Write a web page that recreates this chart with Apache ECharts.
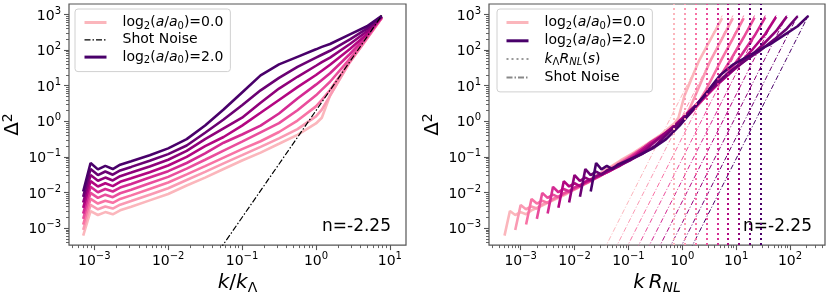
<!DOCTYPE html>
<html>
<head>
<meta charset="utf-8">
<script src="https://cdn.jsdelivr.net/npm/echarts@6/dist/echarts.min.js"></script>
<style>html,body{margin:0;padding:0;background:#fff}#chart{width:830px;height:300px}</style>
</head>
<body>
<div id="chart"></div>
<script>
// ---------------- data ----------------
const kOverKLambda = [7.08e-4, 8.91e-4, 1.12e-3, 1.41e-3, 1.78e-3, 2.24e-3, 3.16e-3, 5.62e-3, 0.01, 0.0178, 0.0316, 0.0562, 0.1, 0.178, 0.316, 0.562, 1.0, 1.20, 1.55, 2.88, 4.90, 7.76];
const log2aOverA0 = [0.0, 0.25, 0.5, 0.75, 1.0, 1.25, 1.5, 1.75, 2.0];
const delta2_a000 = [6.17e-4, 3.02e-3, 2.34e-3, 2.82e-3, 2.45e-3, 3.16e-3, 3.98e-3, 6.03e-3, 9.12e-3, 0.0158, 0.0263, 0.0457, 0.0794, 0.132, 0.234, 0.417, 0.871, 1.26, 5.25, 50.1, 219, 794];
const delta2_a025 = [8.91e-4, 4.47e-3, 3.39e-3, 4.07e-3, 3.55e-3, 4.57e-3, 5.75e-3, 8.71e-3, 0.0132, 0.0224, 0.0380, 0.0661, 0.112, 0.191, 0.331, 0.603, 1.38, 2.14, 5.25, 45.7, 209, 794];
const delta2_a050 = [1.26e-3, 6.61e-3, 4.90e-3, 5.89e-3, 5.13e-3, 6.61e-3, 8.32e-3, 0.0126, 0.0191, 0.0324, 0.0550, 0.0955, 0.166, 0.275, 0.501, 1.05, 2.63, 3.98, 7.59, 47.9, 214, 794];
const delta2_a075 = [1.82e-3, 9.77e-3, 7.08e-3, 8.71e-3, 7.41e-3, 9.55e-3, 0.0120, 0.0182, 0.0275, 0.0468, 0.0832, 0.151, 0.269, 0.490, 0.891, 2.04, 5.37, 7.76, 12.9, 57.5, 229, 813];
const delta2_a100 = [2.57e-3, 0.0145, 0.0102, 0.0126, 0.0107, 0.0138, 0.0174, 0.0263, 0.0398, 0.0676, 0.126, 0.251, 0.427, 0.759, 1.66, 4.37, 10.7, 14.5, 22.4, 77.6, 251, 832];
const delta2_a125 = [3.72e-3, 0.0209, 0.0148, 0.0182, 0.0151, 0.0200, 0.0251, 0.0372, 0.0575, 0.100, 0.200, 0.363, 0.759, 1.74, 3.98, 9.12, 20.0, 26.3, 38.9, 107, 282, 851];
const delta2_a150 = [5.25e-3, 0.0309, 0.0214, 0.0263, 0.0219, 0.0288, 0.0363, 0.0537, 0.0832, 0.148, 0.316, 0.631, 1.26, 3.31, 8.32, 17.8, 36.3, 45.7, 61.7, 148, 339, 871];
const delta2_a175 = [7.59e-3, 0.0457, 0.0309, 0.0389, 0.0316, 0.0417, 0.0525, 0.0776, 0.120, 0.209, 0.479, 1.12, 2.82, 7.41, 16.6, 33.9, 61.7, 74.1, 95.5, 200, 398, 891];
const delta2_a200 = [0.0107, 0.0676, 0.0447, 0.0562, 0.0457, 0.0603, 0.0759, 0.112, 0.174, 0.316, 0.759, 2.14, 6.46, 19.5, 39.8, 64.6, 105, 123, 148, 275, 468, 912];
const kLambdaRNL = [0.708, 1.12, 1.78, 2.82, 4.47, 7.08, 11.2, 17.8, 28.2];
const shotNoiseK = [0.05, 7.76];
const shotNoiseDelta2 = [2.5e-4, 934];
const xTickExpLeft = [-3, -2, -1, 0, 1];
const xTickExpRight = [-3, -2, -1, 0, 1, 2];
const yTickExp = [-3, -2, -1, 0, 1, 2, 3];
const nLabel = 'n=-2.25';

// ---------------- styling ----------------
const curves = [delta2_a000, delta2_a025, delta2_a050, delta2_a075, delta2_a100, delta2_a125, delta2_a150, delta2_a175, delta2_a200];
const colors = ['#fbb6bc', '#fa9ab3', '#f873a5', '#ea4e9c', '#d42a92', '#b30681', '#8f017a', '#6b0173', '#49006a'];
const F = '"DejaVu Sans", sans-serif';
const TC = '#555';
const L = Math.log10;
const leftXRange = [-3.342, 1.218];
const rightXRange = [-3.588, 2.649];
const yRange = [-3.476, 3.294];

function fmtExp(v) { const e = Math.round(v); return e < 0 ? '\u2212' + (-e) : String(e); }
function tickRich() {
  return {
    b: { fontFamily: F, fontSize: 14, color: '#000', lineHeight: 17, verticalAlign: 'bottom' },
    s: { fontFamily: F, fontSize: 10, color: '#000', lineHeight: 11, verticalAlign: 'top' }
  };
}
function axisPair(dim, gi, range, majors, nameObj) {
  const minors = [];
  for (let e = Math.floor(range[0]); e < range[1]; e++) {
    for (let m = 2; m < 10; m++) { const v = e + Math.log10(m); if (v > range[0] && v < range[1]) minors.push(v); }
  }
  const base = { type: 'value', gridIndex: gi, min: range[0], max: range[1], position: dim === 'x' ? 'bottom' : 'left',
    splitLine: { show: false }, axisLine: { show: false, onZero: false } };
  const major = Object.assign({}, base, {
    axisTick: { show: true, customValues: majors, length: 5, lineStyle: { color: TC, width: 1.1 } },
    axisLabel: { show: true, customValues: majors, margin: dim === 'x' ? 6 : 8,
      formatter: v => '{b|10}{s|' + fmtExp(v) + '}', rich: tickRich() }
  }, nameObj || {});
  const minor = Object.assign({}, base, {
    axisTick: { show: true, customValues: minors, length: 3, lineStyle: { color: TC, width: 0.9 } },
    axisLabel: { show: false }
  });
  return [major, minor];
}
const nameRich = {
  i: { fontFamily: F, fontSize: 20, fontStyle: 'italic', color: '#000', lineHeight: 24 },
  n: { fontFamily: F, fontSize: 20, color: '#000', lineHeight: 24 },
  s: { fontFamily: F, fontSize: 14, color: '#000', lineHeight: 10, verticalAlign: 'bottom' },
  si: { fontFamily: F, fontSize: 14, fontStyle: 'italic', color: '#000', lineHeight: 10, verticalAlign: 'bottom' },
  p: { fontFamily: F, fontSize: 14, color: '#000', lineHeight: 12, verticalAlign: 'top' }
};
const xNameLeft = { name: '{i|k}{n|/}{i|k}{s|\u039B}', nameLocation: 'middle', nameGap: 19, nameTextStyle: { rich: nameRich } };
const xNameRight = { name: '{i|k}{n|\u2009}{i|R}{si|NL}', nameLocation: 'middle', nameGap: 19, nameTextStyle: { rich: nameRich } };
const yName = { name: '{n|\u0394}{p|2}', nameLocation: 'middle', nameGap: 44, nameRotate: 90, nameTextStyle: { rich: nameRich } };

const lx = axisPair('x', 0, leftXRange, xTickExpLeft, xNameLeft);
const rx = axisPair('x', 1, rightXRange, xTickExpRight, xNameRight);
const ly = axisPair('y', 0, yRange, yTickExp, yName);
const ry = axisPair('y', 1, yRange, yTickExp, yName);

const series = [];
curves.forEach((d, i) => {
  series.push({ name: 'L' + i, type: 'line', xAxisIndex: 0, yAxisIndex: 0, symbol: 'none', silent: true, z: 2,
    data: kOverKLambda.map((k, j) => [L(k), L(d[j])]),
    lineStyle: { color: colors[i], width: 2.6 }, itemStyle: { color: colors[i] } });
});
series.push({ name: 'SN', type: 'line', xAxisIndex: 0, yAxisIndex: 0, symbol: 'none', silent: true, z: 3,
  data: shotNoiseK.map((k, j) => [L(k), L(shotNoiseDelta2[j])]),
  lineStyle: { color: '#000', width: 1.2, type: [6, 2, 1.5, 2] }, itemStyle: { color: '#000' } });
curves.forEach((d, i) => {
  series.push({ name: 'R' + i, type: 'line', xAxisIndex: 2, yAxisIndex: 2, symbol: 'none', silent: true, z: 2,
    data: kOverKLambda.map((k, j) => [L(k * kLambdaRNL[i]), L(d[j])]),
    lineStyle: { color: colors[i], width: 2.6 }, itemStyle: { color: colors[i] },
    markLine: { silent: true, symbol: 'none', label: { show: false }, animation: false,
      lineStyle: { color: colors[i], width: 2, type: [2, 3] }, data: [{ xAxis: L(kLambdaRNL[i]) }] } });
  series.push({ name: 'RSN' + i, type: 'line', xAxisIndex: 2, yAxisIndex: 2, symbol: 'none', silent: true, z: 1,
    data: shotNoiseK.map((k, j) => [L(k * kLambdaRNL[i]), L(shotNoiseDelta2[j])]),
    lineStyle: { color: colors[i], width: 1, type: [5, 2, 1, 2] }, itemStyle: { color: colors[i] } });
});
series.push({ name: 'kRNL', type: 'line', xAxisIndex: 2, yAxisIndex: 2, symbol: 'none', data: [],
  lineStyle: { color: '#999', width: 2, type: [2, 3] }, itemStyle: { color: '#999' } });
series.push({ name: 'SNR', type: 'line', xAxisIndex: 2, yAxisIndex: 2, symbol: 'none', data: [],
  lineStyle: { color: '#888', width: 2, type: [6, 2, 1.5, 2] }, itemStyle: { color: '#888' } });

const legRich = {
  f: { fontFamily: F, fontSize: 14, color: '#000', lineHeight: 17, padding: [0, 0, 0, 11] },
  fi: { fontFamily: F, fontSize: 14, fontStyle: 'italic', color: '#000', lineHeight: 17, padding: [0, 0, 0, 11] },
  n: { fontFamily: F, fontSize: 14, color: '#000', lineHeight: 17 },
  i: { fontFamily: F, fontSize: 14, fontStyle: 'italic', color: '#000', lineHeight: 17 },
  s: { fontFamily: F, fontSize: 10, color: '#000', lineHeight: 8, verticalAlign: 'bottom' },
  si: { fontFamily: F, fontSize: 10, fontStyle: 'italic', color: '#000', lineHeight: 8, verticalAlign: 'bottom' }
};
function aLabel(v) { return '{f|log}{s|2}{n|(}{i|a}{n|/}{i|a}{s|0}{n|)=' + v.toFixed(1) + '}'; }
const legendText = {
  L0: aLabel(log2aOverA0[0]), L8: aLabel(log2aOverA0[8]), SN: '{f|Shot Noise}',
  R0: aLabel(log2aOverA0[0]), R8: aLabel(log2aOverA0[8]),
  kRNL: '{fi|k}{s|\u039B}{i|R}{si|NL}{n|(}{i|s}{n|)}', SNR: '{f|Shot Noise}'
};
const legendBase = { orient: 'vertical', itemWidth: 22, itemHeight: 10, selectedMode: false,
  backgroundColor: '#fff', borderColor: '#d0d0d0', borderWidth: 1, borderRadius: 3,
  itemStyle: { opacity: 0 }, formatter: n => legendText[n],
  textStyle: { rich: legRich, color: '#000', fontSize: 14, fontFamily: F, lineHeight: 17 } };

const option = {
  animation: false,
  backgroundColor: '#fff',
  grid: [
    { left: 69, top: 4, width: 337, height: 246, show: true, borderColor: TC, borderWidth: 1.2, backgroundColor: 'transparent' },
    { left: 489, top: 4, width: 336, height: 246, show: true, borderColor: TC, borderWidth: 1.2, backgroundColor: 'transparent' }
  ],
  xAxis: [lx[0], lx[1], rx[0], rx[1]],
  yAxis: [ly[0], ly[1], ry[0], ry[1]],
  legend: [
    Object.assign({}, legendBase, { left: 75, top: 9, padding: [5, 7, 6, 8], itemGap: 0.3,
      data: [{ name: 'L0', lineStyle: { width: 3 } }, { name: 'SN', lineStyle: { width: 1.2 } }, { name: 'L8', lineStyle: { width: 3 } }] }),
    Object.assign({}, legendBase, { left: 497, top: 9, padding: [5, 7, 6, 8], itemGap: 1.3,
      data: [{ name: 'R0', lineStyle: { width: 3 } }, { name: 'R8', lineStyle: { width: 3 } }, { name: 'kRNL', lineStyle: { width: 2 } }, { name: 'SNR', lineStyle: { width: 2 } }] })
  ],
  graphic: [
    { type: 'text', left: 322, top: 218, style: { text: nLabel, font: '17px "DejaVu Sans"', fill: '#000' } },
    { type: 'text', left: 743, top: 218, style: { text: nLabel, font: '17px "DejaVu Sans"', fill: '#000' } }
  ],
  series: series
};
const chart = echarts.init(document.getElementById('chart'), null, { renderer: 'canvas' });
chart.setOption(option);
</script>
</body>
</html>
